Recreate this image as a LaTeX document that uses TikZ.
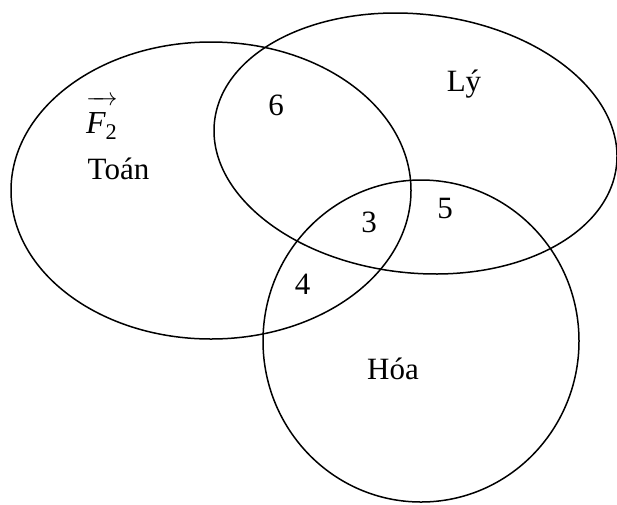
\documentclass[tikz,border=0pt]{standalone}
\usepackage{fontspec}
\setmainfont{Liberation Serif}
\begin{document}
\begin{tikzpicture}[x=1pt,y=-1pt,
  set/.style={draw=black, line width=1.5pt},
  lbl/.style={anchor=base, inner sep=0pt, font=\fontsize{31}{36}\selectfont}]
\useasboundingbox (0,0) rectangle (617,504);
% sets
\draw[set] (211,190.5) ellipse [x radius=200, y radius=148.5];
\draw[set, rotate around={-6.2:(415.5,143.5)}] (415.5,143.5) ellipse [x radius=202.2, y radius=129.4];
\draw[set] (421,341) ellipse [x radius=158, y radius=161];
% labels
\node[lbl, anchor=base west, font=\fontsize{32}{36}\selectfont] (f2) at (86,133)
  {$\overrightarrow{\mathit{F}_{\mathrm{2}}\rule{0pt}{0.9em}}$};
\node[lbl] (toan) at (118.5,179) {Toán};
\node[lbl] (ly) at (464,91) {Lý};
\node[lbl] (hoa) at (393,379) {Hóa};
\node[lbl] (n6) at (276,115) {6};
\node[lbl] (n3) at (369,232) {3};
\node[lbl] (n5) at (445,218) {5};
\node[lbl] (n4) at (302.5,294) {4};
\end{tikzpicture}
\end{document}
